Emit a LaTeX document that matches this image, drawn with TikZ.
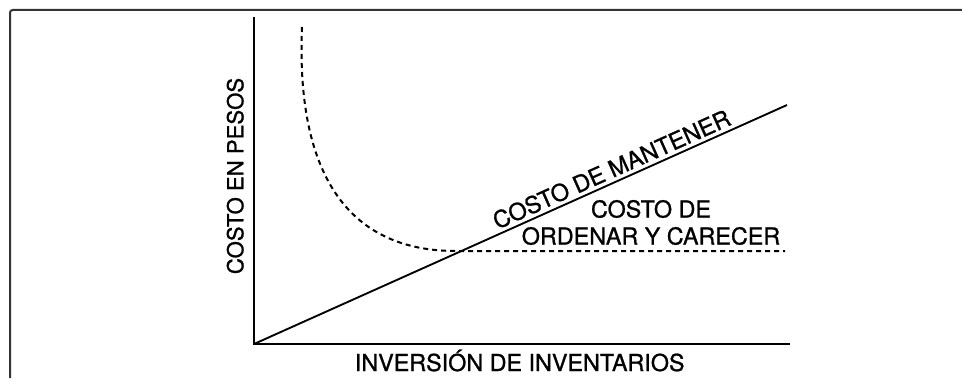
\documentclass[tikz,border=0pt]{standalone}
\usepackage{fontspec}
\setmainfont{TeX Gyre Heros}[FakeBold=1]
\usepackage{tikz}

\begin{document}
\begin{tikzpicture}[x=0.75pt,y=0.75pt,yscale=-1,xscale=1,
  lbl/.style={font=\fontsize{17.5}{20.25}\selectfont,inner sep=0pt}]
\useasboundingbox (0,0) rectangle (962,378);

%Shape: Frame
\draw [line width=1.5,color=black!80,rounded corners=2]  (10,378) -- (10,10) -- (962,10) ;
%Shape: Axis 2D
\coordinate (origin) at (254,344);
\coordinate (ytop) at (254,17);
\coordinate (xend) at (790,344);
\draw [line width=1.4]  (ytop) -- (origin) -- (xend) ;
%Shape: Straight Line
\coordinate (holdend) at (787,105);
\draw [line width=1.4]  (origin) -- (holdend) ;
%Shape: Curve
\coordinate (ordstart) at (302,27);
\coordinate (ordend) at (785,251);
\draw [line width=1.5,dash pattern=on 3.75pt off 3pt]  (ordstart) .. controls (296,170) and (345,252) .. (458,251) -- (ordend) ;

% Text Node
\draw (615,177) node [lbl,anchor=base,rotate=24.15] (hold) {COSTO DE MANTENER};
% Text Node
\draw (243.3,176) node [lbl,anchor=base,rotate=90,font=\fontsize{16.6}{20}\selectfont] (ylabel) {COSTO EN PESOS};
% Text Node
\draw (519.7,371) node [lbl,anchor=base] (xlabel) {INVERSIÓN DE INVENTARIOS};
% Text Node
\draw (651,222.5) node [lbl,align=center] (order) {COSTO DE\\ORDENAR Y CARECER};

\end{tikzpicture}
\end{document}
